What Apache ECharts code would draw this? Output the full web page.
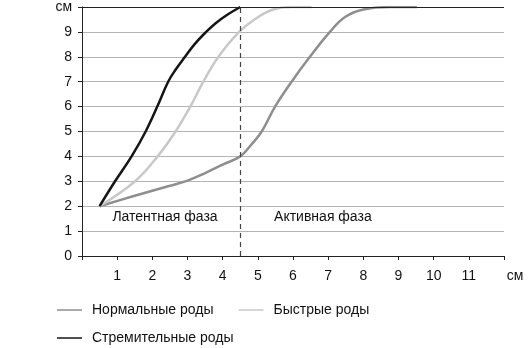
<!DOCTYPE html>
<html><head><meta charset="utf-8">
<script src="https://cdn.jsdelivr.net/npm/echarts@6/dist/echarts.min.js"></script>
<style>html,body{margin:0;padding:0;background:#fff}#c{width:530px;height:348px}</style>
</head><body><div id="c"></div>
<script>
var xTicks = [0,1,2,3,4,5,6,7,8,9,10,11,12];
var yTicks = [0,1,2,3,4,5,6,7,8,9,10];
var unitLabel = 'см';
var seriesNames = ['Нормальные роды','Быстрые роды','Стремительные роды'];
var normalX = [0.5, 1.5, 2.5, 3.0, 3.5, 4.0, 4.5, 4.8, 5.11, 5.49, 5.96, 6.48, 7.05, 7.48, 8.0, 8.76, 9.52];
var normalY = [2, 2.42, 2.82, 3.03, 3.33, 3.67, 4.0, 4.45, 5, 6, 7, 8, 9, 9.6, 9.9, 10, 10];
var fastX = [0.5, 1.51, 2.15, 2.66, 3.08, 3.45, 3.88, 4.47, 5.01, 5.43, 5.96, 6.53];
var fastY = [2, 3, 4, 5, 6, 7, 8, 9, 9.6, 9.9, 10, 10];
var rapidX = [0.5, 0.94, 1.41, 1.81, 2.14, 2.45, 2.67, 2.93, 3.21, 3.53, 3.8, 4.1, 4.5];
var rapidY = [2, 3, 4, 5, 6, 7, 7.5, 8, 8.52, 9, 9.35, 9.66, 10];
var phaseBoundary = 4.5;
var phaseLabels = ['Латентная фаза','Активная фаза'];
var phaseLabelX = [2.36, 6.85];
var phaseLabelY = 1.55;

function pairs(xs, ys){ return xs.map(function(x,i){return [x, ys[i]];}); }
var FONT = 'Liberation Sans, Arial, sans-serif';
var FS = 14;
var chart = echarts.init(document.getElementById('c'));
chart.setOption({
  animation:false,
  backgroundColor:'#fff',
  grid:{left:82, right:26, top:3.5, bottom:92},
  xAxis:{type:'value', min:0, max:12, interval:1,
    axisLine:{lineStyle:{color:'#222', width:1}},
    axisTick:{show:true, length:4, lineStyle:{color:'#222'}},
    splitLine:{show:false},
    axisLabel:{color:'#111', fontFamily:FONT, fontSize:FS, margin:13,
      formatter:function(v){ return v===0?'':(v===12?'{u|'+unitLabel+'}':String(v)); },
      rich:{u:{color:'#111', fontFamily:FONT, fontSize:FS, padding:[0,0,0,22]}}}
  },
  yAxis:{type:'value', min:0, max:10, interval:1,
    axisLine:{show:true, lineStyle:{color:'#222', width:1}},
    axisTick:{show:true, length:4, lineStyle:{color:'#222'}},
    splitLine:{show:true, lineStyle:{color:'#b4b4b4', width:1}},
    axisLabel:{color:'#111', fontFamily:FONT, fontSize:FS, margin:10,
      formatter:function(v){ return v===10?unitLabel:String(v); }}
  },
  legend:[
    {data:[seriesNames[0], seriesNames[1]], left:57, top:303, padding:0, orient:'horizontal',
      icon:'rect', itemWidth:25, itemHeight:1.5, itemGap:25,
      textStyle:{color:'#111', fontFamily:FONT, fontSize:FS, padding:[0,0,0,5]}},
    {data:[seriesNames[2]], left:57, top:331, padding:0, orient:'horizontal',
      icon:'rect', itemWidth:25, itemHeight:1.5,
      textStyle:{color:'#111', fontFamily:FONT, fontSize:FS, padding:[0,0,0,5]}}
  ],
  series:[
    {name:seriesNames[0], type:'line', data:pairs(normalX, normalY), smooth:0.4, symbol:'none',
      lineStyle:{color:'#8e8e8e', width:2.5}, itemStyle:{color:'#8e8e8e'},
      markLine:{silent:true, symbol:'none', label:{show:false},
        data:[
          {xAxis:phaseBoundary, lineStyle:{color:'#444', type:[5,4], width:1.2}},
          {yAxis:10, lineStyle:{color:'#222', type:'solid', width:1.2}}
        ]},
      markPoint:{silent:true, symbol:'circle', symbolSize:0,
        label:{show:true, color:'#111', fontFamily:FONT, fontSize:FS, position:'inside'},
        data:phaseLabels.map(function(t,i){return {coord:[phaseLabelX[i], phaseLabelY], value:t, label:{formatter:t}};})}
    },
    {name:seriesNames[1], type:'line', data:pairs(fastX, fastY), smooth:0.4, symbol:'none',
      lineStyle:{color:'#c8c8c8', width:2.5}, itemStyle:{color:'#c8c8c8'}},
    {name:seriesNames[2], type:'line', data:pairs(rapidX, rapidY), smooth:0.4, symbol:'none',
      lineStyle:{color:'#151515', width:2.5}, itemStyle:{color:'#151515'}}
  ]
});
</script></body></html>
